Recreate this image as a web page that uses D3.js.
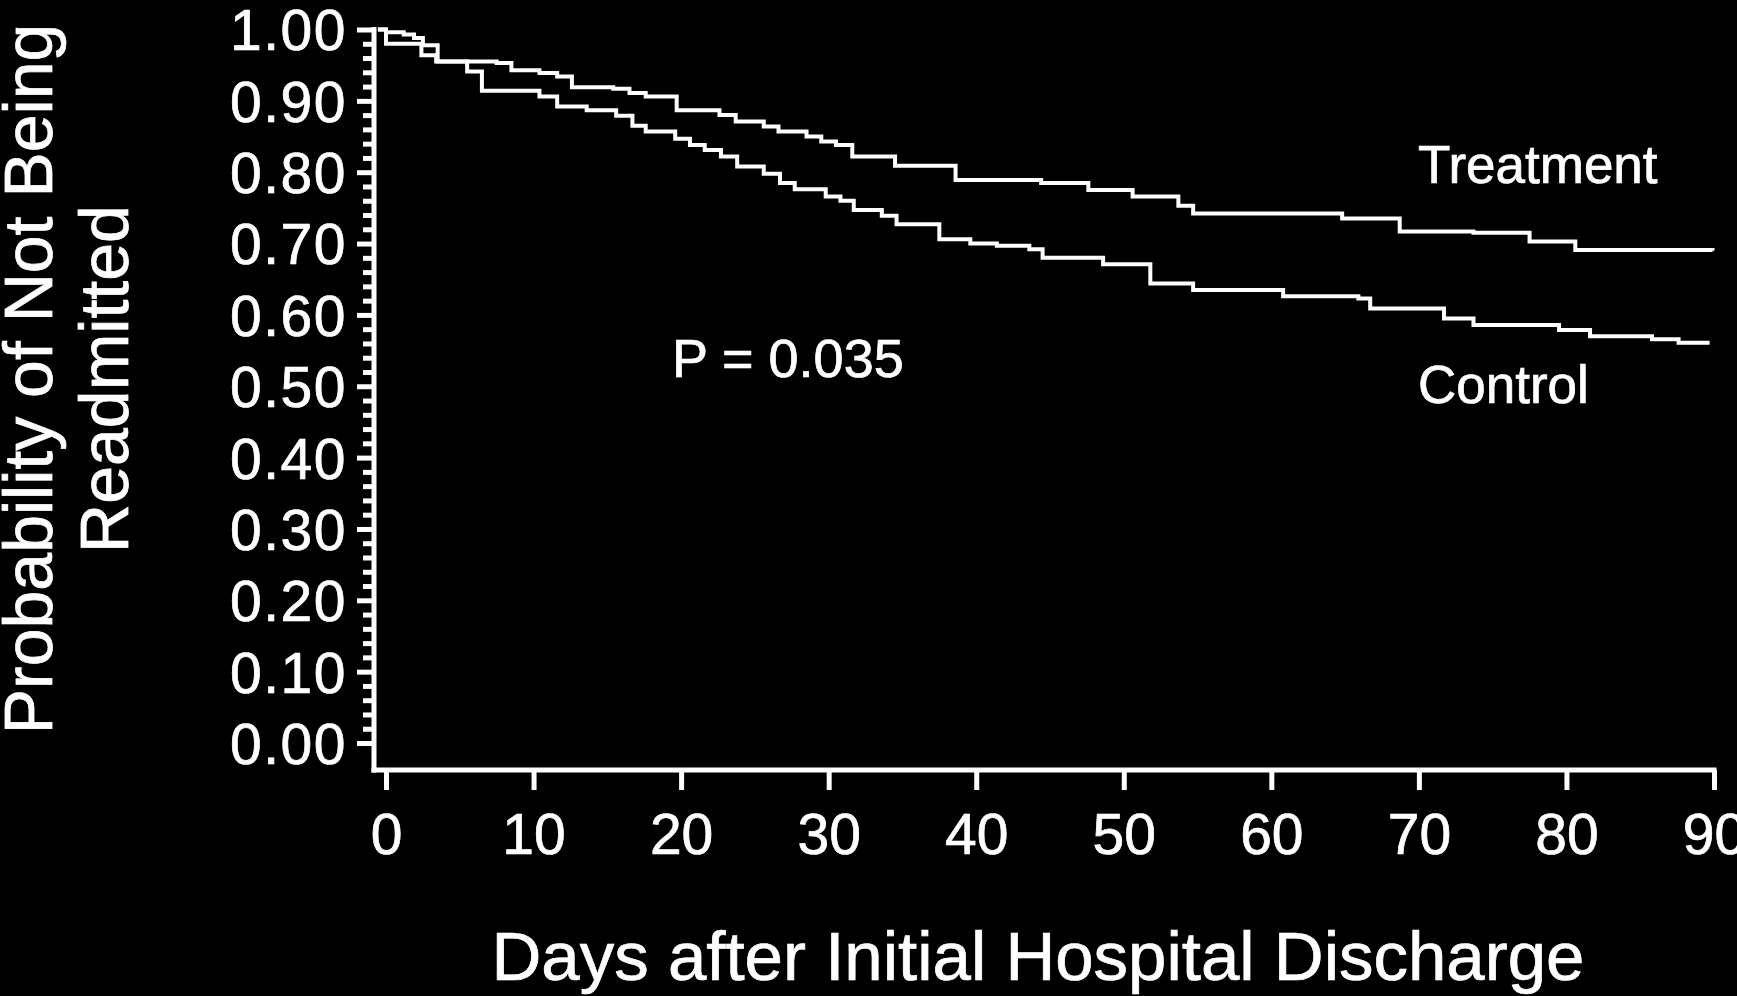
<!DOCTYPE html>
<html>
<head>
<meta charset="utf-8">
<script src="https://cdn.jsdelivr.net/npm/d3@7"></script>
<style>
  html, body { margin: 0; padding: 0; background: #000; }
  svg { display: block; }
  text { font-family: "Liberation Sans", Arial, Helvetica, sans-serif; fill: #fff; stroke: #fff; stroke-width: 0.7px; }
</style>
</head>
<body>
<svg id="chart" width="1737" height="996"></svg>
<script>
// ---- data ----
const treatmentDays = [0, 1.2, 1.9, 2.5, 3.5, 7.5, 8.5, 10.4, 11.6, 12.6, 15.4, 16.5, 17.6, 19.7, 22.6, 23.7, 25.6, 26.6, 28.5, 29.5, 30.5, 31.6, 34.5, 38.6, 44.4, 47.6, 50.6, 53.7, 54.7, 64.8, 68.7, 73.7, 77.5, 80.6, 89.9];
const treatmentSurv = [0.996, 0.993, 0.988, 0.978, 0.955, 0.953, 0.943, 0.939, 0.934, 0.919, 0.917, 0.911, 0.906, 0.887, 0.880, 0.871, 0.864, 0.857, 0.850, 0.843, 0.838, 0.822, 0.809, 0.789, 0.785, 0.775, 0.766, 0.753, 0.742, 0.735, 0.717, 0.715, 0.703, 0.691, 0.690];

const controlDays = [0, 2.4, 3.4, 5.5, 6.5, 10.4, 11.6, 13.6, 15.6, 16.7, 17.6, 19.6, 20.6, 21.6, 22.7, 23.8, 25.6, 26.7, 27.7, 29.8, 30.8, 31.7, 33.6, 34.6, 37.5, 39.6, 41.4, 43.6, 44.5, 48.6, 51.8, 54.7, 60.8, 65.9, 66.7, 71.7, 73.7, 79.5, 81.6, 85.8, 87.6, 89.7];
const controlSurv = [0.980, 0.964, 0.955, 0.941, 0.914, 0.906, 0.892, 0.887, 0.879, 0.865, 0.857, 0.847, 0.838, 0.831, 0.822, 0.808, 0.798, 0.785, 0.776, 0.766, 0.760, 0.747, 0.739, 0.727, 0.706, 0.700, 0.697, 0.692, 0.680, 0.671, 0.644, 0.635, 0.626, 0.623, 0.609, 0.595, 0.586, 0.579, 0.570, 0.566, 0.561, 0.561];

const xTicks = [0, 10, 20, 30, 40, 50, 60, 70, 80, 90];
const yMajorTicks = [0, 0.1, 0.2, 0.3, 0.4, 0.5, 0.6, 0.7, 0.8, 0.9, 1.0];
const yMinorTicks = d3.range(0, 51).map(i => i / 50).filter(v => Math.round(v * 50) % 5 !== 0);

const yTitleLines = ["Probability of Not Being", "Readmitted"];
const xTitle = "Days after Initial Hospital Discharge";
const seriesLabels = ["Treatment", "Control"];
const pLabel = "P = 0.035";

// ---- layout ----
const svg = d3.select("#chart");
svg.append("rect").attr("width", 1737).attr("height", 996).attr("fill", "#000");

const xStart = -0.55;
const x = d3.scaleLinear().domain([0, 90]).range([386, 1714]);
const y = d3.scaleLinear().domain([0, 1]).range([743, 29.5]);

const yAxisX = 374;
const xAxisY = 770;
const axisW = 5;

// Y axis line (offset style, reaching down to the x axis)
svg.append("line")
  .attr("x1", yAxisX).attr("x2", yAxisX)
  .attr("y1", y(1) - axisW / 2).attr("y2", xAxisY + axisW / 2)
  .attr("stroke", "#fff").attr("stroke-width", axisW);

// X axis line
svg.append("line")
  .attr("x1", yAxisX - axisW / 2).attr("x2", x(90) + axisW / 2)
  .attr("y1", xAxisY).attr("y2", xAxisY)
  .attr("stroke", "#fff").attr("stroke-width", axisW);

// Y minor ticks
const yMinor = svg.append("g").attr("transform", `translate(${yAxisX},0)`)
  .call(d3.axisLeft(y).tickValues(yMinorTicks).tickSize(11).tickFormat(""));
yMinor.select(".domain").remove();
yMinor.selectAll(".tick line").attr("stroke", "#fff").attr("stroke-width", axisW);

// Y major ticks
const yMajor = svg.append("g").attr("transform", `translate(${yAxisX},0)`)
  .call(d3.axisLeft(y).tickValues(yMajorTicks).tickSize(17).tickFormat(d3.format(".2f")));
yMajor.select(".domain").remove();
yMajor.selectAll(".tick line").attr("stroke", "#fff").attr("stroke-width", axisW);
yMajor.selectAll(".tick text")
  .attr("x", -27).attr("dy", "0.358em")
  .style("font-size", "57px").style("letter-spacing", "1.5px")
  .attr("fill", "#fff").attr("text-anchor", "end");

// X ticks
const xAx = svg.append("g").attr("transform", `translate(0,${xAxisY})`)
  .call(d3.axisBottom(x).tickValues(xTicks).tickSize(20).tickFormat(d3.format("d")));
xAx.select(".domain").remove();
xAx.selectAll(".tick line").attr("stroke", "#fff").attr("stroke-width", axisW);
xAx.selectAll(".tick text")
  .attr("y", 84).attr("dy", 0)
  .style("font-size", "57px")
  .attr("fill", "#fff").attr("text-anchor", "middle");

// Curves
const line = d3.line()
  .x(d => x(d[0]))
  .y(d => y(d[1]))
  .curve(d3.curveStepAfter);

function series(days, surv) {
  const pts = [[xStart, 1]];
  days.forEach((d, i) => pts.push([d, surv[i]]));
  return pts;
}

[[treatmentDays, treatmentSurv], [controlDays, controlSurv]].forEach(([d, s]) => {
  svg.append("path")
    .attr("d", line(series(d, s)))
    .attr("fill", "none")
    .attr("stroke", "#fff")
    .attr("stroke-width", 4)
    .attr("stroke-linejoin", "miter");
});

// Series labels
svg.append("text").attr("x", 1418).attr("y", 183)
  .style("font-size", "53px").text(seriesLabels[0]);
svg.append("text").attr("x", 1418).attr("y", 403)
  .style("font-size", "53px").text(seriesLabels[1]);

// P value
svg.append("text").attr("x", 672).attr("y", 377)
  .style("font-size", "54px").text(pLabel);

// Axis titles
svg.append("text")
  .attr("x", 1038).attr("y", 980)
  .attr("text-anchor", "middle")
  .style("font-size", "69px")
  .text(xTitle);

const yTitle = svg.append("text")
  .attr("transform", "translate(52,379) rotate(-90)")
  .attr("text-anchor", "middle")
  .style("font-size", "68px");
yTitle.append("tspan").attr("x", 0).attr("y", 0).text(yTitleLines[0]);
yTitle.append("tspan").attr("x", 0).attr("y", 76).text(yTitleLines[1]);
</script>
</body>
</html>
